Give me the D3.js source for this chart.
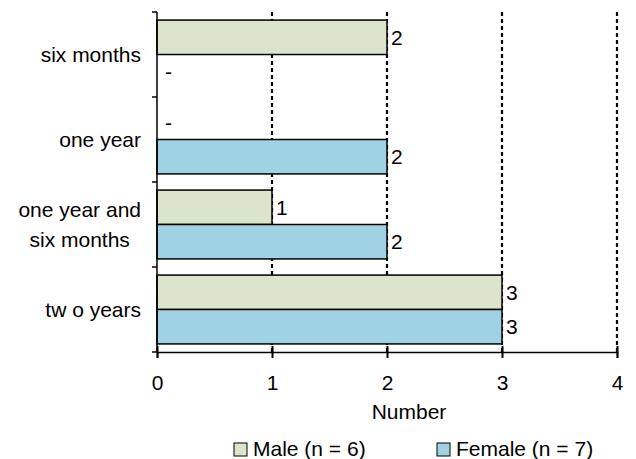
<!DOCTYPE html>
<html>
<head>
<meta charset="utf-8">
<script src="https://cdn.jsdelivr.net/npm/d3@7"></script>
<style>
  html, body { margin: 0; padding: 0; background: #fff; }
  svg { display: block; font-family: "Liberation Sans", Arial, sans-serif; }
</style>
</head>
<body>
<svg id="chart" width="636" height="459"></svg>
<script>
// Categories (top to bottom) and counts per series; null = no respondents ("-")
const categories = ["six months", "one year", "one year and\nsix months", "tw o years"];
const seriesNames = ["Male (n = 6)", "Female (n = 7)"];
const maleValues = [2, null, 1, 3];
const femaleValues = [null, 2, 2, 3];
const xTicks = [0, 1, 2, 3, 4];
const axisTitle = "Number";

const colors = ["#dbe5cb", "#9fd3e3"];
const FS = 21;
const svg = d3.select("#chart");

const margin = { left: 157, right: 19, top: 12, bottom: 107 };
const W = 636, H = 459;
const plotW = W - margin.left - margin.right;
const plotH = H - margin.top - margin.bottom;

const x = d3.scaleLinear().domain([0, 4]).range([margin.left, margin.left + plotW]);
const y = d3.scaleBand().domain(categories).range([margin.top, margin.top + plotH])
  .paddingInner(0.19).paddingOuter(0.095);
const sub = d3.scaleBand().domain([0, 1]).range([0, y.bandwidth()]);

const series = [maleValues, femaleValues];

// Dotted vertical gridlines
svg.append("g").selectAll("line").data(xTicks.filter(d => d > 0)).join("line")
  .attr("x1", d => x(d)).attr("x2", d => x(d))
  .attr("y1", margin.top).attr("y2", margin.top + plotH)
  .attr("stroke", "#000").attr("stroke-width", 2.2).attr("stroke-dasharray", "4,3");

// Bars
series.forEach((vals, si) => {
  const g = svg.append("g");
  vals.forEach((v, ci) => {
    const yy = y(categories[ci]) + sub(si);
    if (v !== null) {
      g.append("rect")
        .attr("x", x(0)).attr("y", yy)
        .attr("width", x(v) - x(0)).attr("height", sub.bandwidth())
        .attr("fill", colors[si]).attr("stroke", "#000").attr("stroke-width", 1.5);
    }
  });
});

// Value labels
series.forEach((vals, si) => {
  vals.forEach((v, ci) => {
    const yy = y(categories[ci]) + sub(si) + sub.bandwidth() / 2;
    svg.append("text")
      .attr("x", x(v === null ? 0 : v) + (v === null ? 8 : 4))
      .attr("y", yy)
      .attr("dy", "0.35em")
      .attr("font-size", FS)
      .attr("fill", "#000")
      .text(v === null ? "-" : v);
  });
});

// Y axis line and ticks at category boundaries
svg.append("line")
  .attr("x1", x(0)).attr("x2", x(0))
  .attr("y1", margin.top).attr("y2", margin.top + plotH)
  .attr("stroke", "#000").attr("stroke-width", 1.5);
const boundaries = d3.range(categories.length + 1).map(i => margin.top + i * plotH / categories.length);
svg.append("g").selectAll("line").data(boundaries).join("line")
  .attr("x1", x(0) - 5).attr("x2", x(0))
  .attr("y1", d => d).attr("y2", d => d)
  .attr("stroke", "#000").attr("stroke-width", 1.5);

// Category labels: block right-aligned to the axis, lines centred within the block
const labelRight = 141;
categories.forEach(c => {
  const lines = c.split("\n");
  const cy = y(c) + y.bandwidth() / 2;
  const t = svg.append("text")
    .attr("text-anchor", "middle")
    .attr("font-size", FS)
    .attr("fill", "#000");
  const spans = lines.map((ln, i) => t.append("tspan")
    .attr("y", cy + (i - (lines.length - 1) / 2) * 30)
    .attr("dy", "0.35em")
    .text(ln));
  const maxW = d3.max(spans, s => s.node().getComputedTextLength());
  spans.forEach(s => s.attr("x", labelRight - maxW / 2));
});

// X axis
const xAxis = d3.axisBottom(x).tickValues(xTicks).tickSize(6).tickPadding(17).tickFormat(d3.format("d"));
const gx = svg.append("g").attr("transform", `translate(0,${margin.top + plotH})`).call(xAxis);
gx.select(".domain").attr("stroke", "#000").attr("stroke-width", 1.5);
gx.selectAll(".tick line").attr("stroke", "#000").attr("stroke-width", 2).attr("y1", -6);
gx.selectAll(".tick text").attr("font-size", FS).attr("font-family", "Liberation Sans, Arial, sans-serif").attr("fill", "#000");

svg.append("text")
  .attr("x", 409).attr("y", 412).attr("dy", "0.35em")
  .attr("text-anchor", "middle").attr("font-size", FS).attr("fill", "#000")
  .text(axisTitle);

// Legend
const legendX = [234, 437];
seriesNames.forEach((name, i) => {
  const g = svg.append("g").attr("transform", `translate(${legendX[i]},443)`);
  g.append("rect").attr("width", 13).attr("height", 13)
    .attr("fill", colors[i]).attr("stroke", "#000").attr("stroke-width", 1);
  g.append("text").attr("x", 19).attr("y", 6).attr("dy", "0.35em")
    .attr("font-size", FS).attr("fill", "#000").text(name);
});
</script>
</body>
</html>
